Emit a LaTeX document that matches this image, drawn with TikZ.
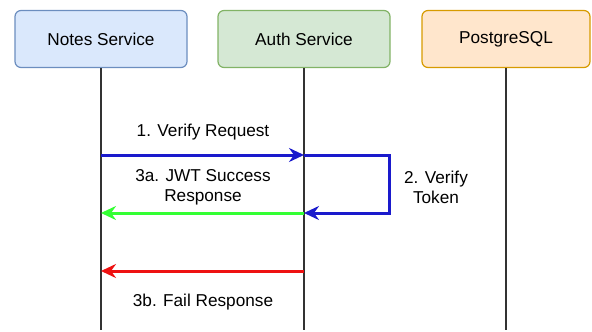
\documentclass[tikz,border=0pt]{standalone}
\usepackage{fontspec}
\setmainfont{Liberation Sans}
\usetikzlibrary{arrows.meta}
\definecolor{nfill}{HTML}{DAE8FC}\definecolor{nline}{HTML}{6C8EBF}
\definecolor{afill}{HTML}{D5E8D4}\definecolor{aline}{HTML}{82B366}
\definecolor{pfill}{HTML}{FFE6CC}\definecolor{pline}{HTML}{D79B00}
\definecolor{lifec}{HTML}{333333}
\definecolor{ablue}{HTML}{1A1ACC}\definecolor{agreen}{HTML}{33FF33}\definecolor{ared}{HTML}{EE1111}
\begin{document}
\begin{tikzpicture}[x=1pt,y=-1pt,
  actor/.style={draw, rounded corners=6pt, line width=1.2pt, minimum width=172pt, minimum height=57pt, font=\fontsize{17.2}{20}\selectfont},
  lifeline/.style={draw=lifec, line width=1.6pt},
  msg/.style={line width=3pt, -{Stealth[length=15pt,width=14pt,inset=5pt]}},
  lbl/.style={font=\fontsize{17.2}{20}\selectfont, align=center, inner sep=0pt}]
\useasboundingbox (0,0) rectangle (592,332);
\node[actor, fill=nfill, draw=nline] (notes) at (101,39) {Notes Service};
\node[actor, fill=afill, draw=aline] (auth) at (304,39) {Auth Service};
\node[actor, fill=pfill, draw=pline, minimum width=168pt] (pg) at (506,39) {PostgreSQL};
\coordinate (nend) at (101,330);
\coordinate (aend) at (304,330);
\coordinate (pend) at (506,330);
\draw[lifeline] (notes.south) -- (nend);
\draw[lifeline] (auth.south) -- (aend);
\draw[lifeline] (pg.south) -- (pend);
\coordinate (n1) at (101,155); \coordinate (a1) at (304,155);
\coordinate (n2) at (101,213); \coordinate (a2) at (304,213);
\coordinate (n3) at (101,271); \coordinate (a3) at (304,271);
\coordinate (l1) at (389,155); \coordinate (l2) at (389,213);
\draw[msg, ablue] (n1) -- (a1);
\draw[msg, ablue, rounded corners=0pt] (a1) -- (l1) -- (l2) -- (a2);
\draw[msg, agreen] (a2) -- (n2);
\draw[msg, ared] (a3) -- (n3);
\node[lbl] (t1) at (203,132.5) {1. Verify Request};
\node[lbl] (t3a) at (203,187) {3a. JWT Success\\Response};
\node[lbl] (t2) at (436,187) {2. Verify\\Token};
\node[lbl] (t3b) at (203,302) {3b. Fail Response};
\end{tikzpicture}
\end{document}
